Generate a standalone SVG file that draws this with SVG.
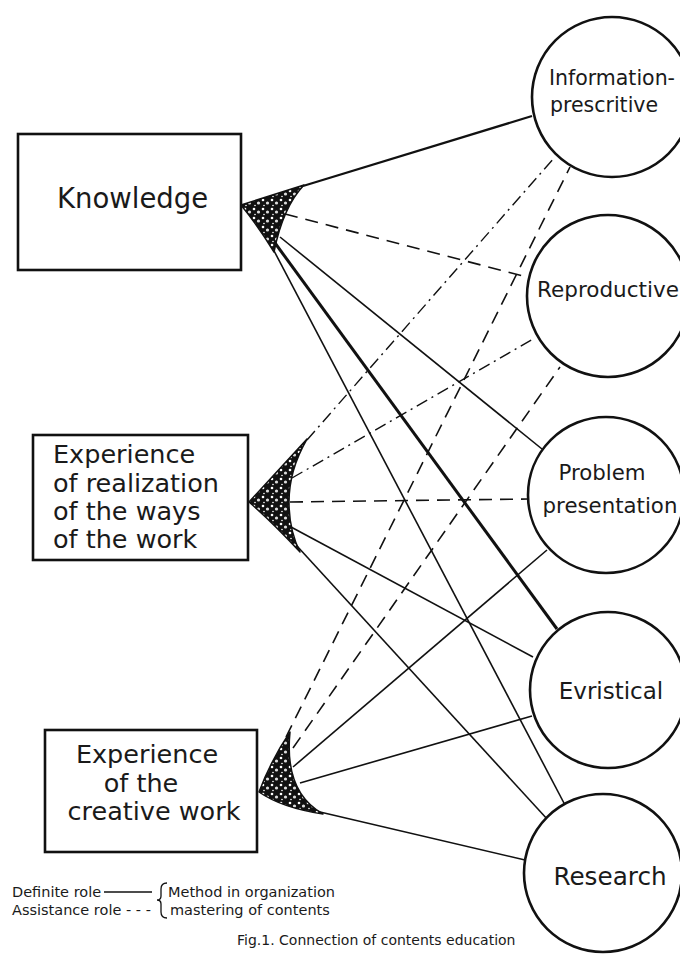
<svg xmlns="http://www.w3.org/2000/svg" width="680" height="960" viewBox="0 0 680 960">
<defs>
  <pattern id="speck" width="9" height="9" patternUnits="userSpaceOnUse">
    <rect width="9" height="9" fill="#111"/>
    <circle cx="2" cy="2" r="1.3" fill="#fff"/>
    <circle cx="6.5" cy="5" r="1.6" fill="#ddd"/>
    <circle cx="3" cy="7.5" r="0.8" fill="#fff"/>
  </pattern>
  <style>
    .box { fill: #fff; stroke: #111; stroke-width: 2.6; }
    .circ { fill: #fff; stroke: #111; stroke-width: 2.6; }
    .fan { fill: url(#speck); stroke: #111; stroke-width: 1.5; stroke-linejoin: round; }
    .t { font-family: "DejaVu Sans", Verdana, sans-serif; fill: #1a1a1a; }
    .solid { stroke: #111; stroke-width: 1.6; fill: none; }
    .thick { stroke: #111; stroke-width: 3; fill: none; }
    .dash { stroke: #111; stroke-width: 1.6; stroke-dasharray: 13 8; fill: none; }
    .dashdot { stroke: #111; stroke-width: 1.4; stroke-dasharray: 12 5 2 5; fill: none; }
  </style>
</defs>
<rect width="680" height="960" fill="#fff"/>

<g id="connectors">
  <!-- from Knowledge -->
  <line class="solid" x1="303" y1="186" x2="532" y2="116" style="stroke-width:2.2"/>
  <line class="dash" x1="285" y1="214" x2="527" y2="277"/>
  <line class="solid" x1="280" y1="237" x2="542" y2="449"/>
  <line class="thick" x1="275" y1="243" x2="557" y2="629"/>
  <line class="solid" x1="272" y1="247" x2="565" y2="805"/>
  <!-- from Experience of realization -->
  <line class="dashdot" x1="307" y1="440" x2="554" y2="158"/>
  <line class="dashdot" x1="292" y1="478" x2="535" y2="338"/>
  <line class="dash" x1="290" y1="502" x2="528" y2="499"/>
  <line class="solid" x1="291" y1="527" x2="533" y2="657"/>
  <line class="solid" x1="297" y1="546" x2="548" y2="820"/>
  <!-- from Experience of the creative work -->
  <line class="dash" x1="286" y1="737" x2="570" y2="167"/>
  <line class="dash" x1="293" y1="748" x2="560" y2="367"/>
  <line class="solid" x1="293" y1="767" x2="547" y2="550"/>
  <line class="solid" x1="300" y1="783" x2="532" y2="716"/>
  <line class="solid" x1="320" y1="812" x2="525" y2="860"/>
</g>

<g id="knowledge">
  <rect class="box" x="18" y="134" width="223" height="136"/>
  <text class="t" x="57" y="208" font-size="27.5">Knowledge</text>
  <path class="fan" d="M241,205 L304,185 Q283,207 274,252 Q258,226 241,205 Z"/>
</g>

<g id="experience-realization">
  <rect class="box" x="33" y="435" width="215" height="125"/>
  <text class="t" font-size="25.5"><tspan x="53" y="463">Experience</tspan><tspan x="53" y="492">of realization</tspan><tspan x="53" y="520">of the ways</tspan><tspan x="53" y="548">of the work</tspan></text>
  <path class="fan" d="M249,502 Q282,466 307,439 Q289,470 289,502 Q289,530 300,552 Q272,522 249,502 Z"/>
</g>

<g id="experience-creative">
  <rect class="box" x="45" y="730" width="212" height="122"/>
  <text class="t" font-size="25.5" text-anchor="middle"><tspan x="147" y="763">Experience</tspan><tspan x="141" y="792">of the</tspan><tspan x="154" y="820">creative work</tspan></text>
  <path class="fan" d="M290,732 Q284,792 323,814 Q282,808 259,792 Q271,760 290,732 Z"/>
</g>

<g id="information-prescritive">
  <circle class="circ" cx="612" cy="97" r="80"/>
  <text class="t" font-size="20.5" text-anchor="middle"><tspan x="612" y="85">Information-</tspan><tspan x="604" y="112">prescritive</tspan></text>
</g>

<g id="reproductive">
  <circle class="circ" cx="608" cy="296" r="81"/>
  <text class="t" x="608" y="297" font-size="21.5" text-anchor="middle">Reproductive</text>
</g>

<g id="problem-presentation">
  <circle class="circ" cx="606" cy="495" r="78"/>
  <text class="t" font-size="21.3" text-anchor="middle"><tspan x="602" y="480">Problem</tspan><tspan x="610" y="513">presentation</tspan></text>
</g>

<g id="evristical">
  <circle class="circ" cx="608" cy="690" r="78"/>
  <text class="t" x="611" y="699" font-size="23" text-anchor="middle">Evristical</text>
</g>

<g id="research">
  <circle class="circ" cx="603" cy="873" r="79"/>
  <text class="t" x="610" y="885" font-size="24.7" text-anchor="middle">Research</text>
</g>

<g id="legend">
  <text class="t" x="12" y="897" font-size="14.5">Definite role</text>
  <line x1="104" y1="892" x2="152" y2="892" stroke="#111" stroke-width="1.3"/>
  <text class="t" x="12" y="915" font-size="14.5">Assistance role - - -</text>
  <path d="M167,883 Q161,883 161,889 L161,896 Q161,900 157,900 Q161,900 161,904 L161,912 Q161,918 167,918" fill="none" stroke="#111" stroke-width="1.3"/>
  <text class="t" x="168" y="897" font-size="14.5">Method in organization</text>
  <text class="t" x="170" y="915" font-size="14.5">mastering of contents</text>
</g>

<text class="t" x="237" y="945" font-size="14">Fig.1. Connection of contents education</text>
</svg>
